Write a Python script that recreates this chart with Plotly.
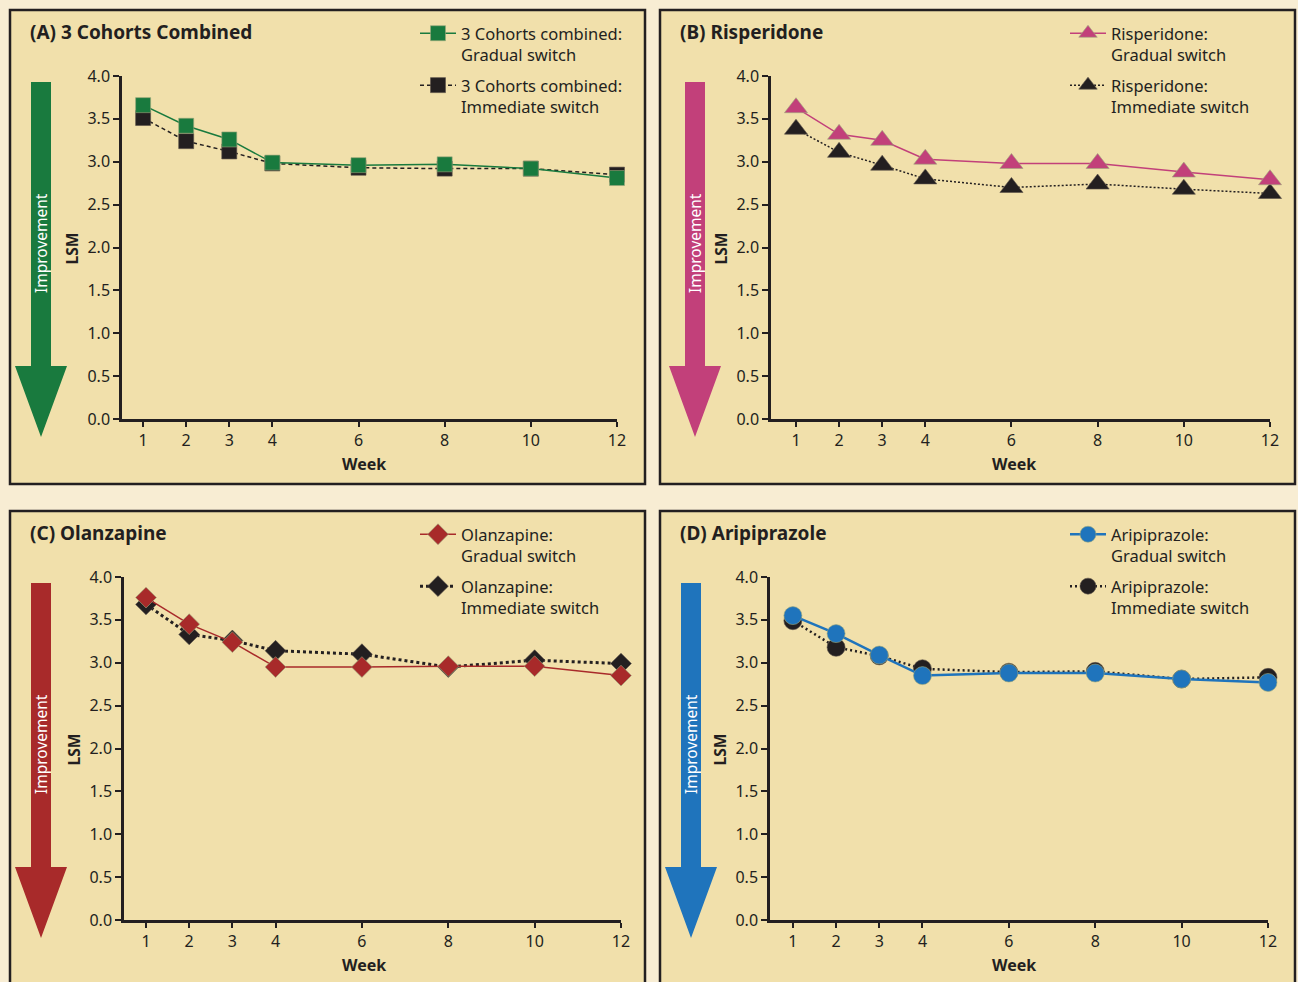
import plotly.graph_objects as go

W, H = 1298, 982

weeks = [1, 2, 3, 4, 6, 8, 10, 12]
week_ticks = [1, 2, 3, 4, 6, 8, 10, 12]
lsm_ticks = [0.0, 0.5, 1.0, 1.5, 2.0, 2.5, 3.0, 3.5, 4.0]

combined_gradual = [3.66, 3.42, 3.26, 2.99, 2.96, 2.97, 2.92, 2.81]
combined_immediate = [3.51, 3.24, 3.12, 2.98, 2.93, 2.92, 2.92, 2.85]
risperidone_gradual = [3.63, 3.32, 3.25, 3.03, 2.98, 2.98, 2.88, 2.79]
risperidone_immediate = [3.38, 3.11, 2.96, 2.80, 2.70, 2.74, 2.68, 2.63]
olanzapine_gradual = [3.76, 3.45, 3.24, 2.95, 2.95, 2.96, 2.96, 2.85]
olanzapine_immediate = [3.68, 3.33, 3.26, 3.14, 3.10, 2.95, 3.03, 2.99]
aripiprazole_gradual = [3.55, 3.34, 3.09, 2.85, 2.88, 2.88, 2.81, 2.77]
aripiprazole_immediate = [3.49, 3.18, 3.08, 2.93, 2.89, 2.90, 2.81, 2.83]

titles = ["(A) 3 Cohorts Combined", "(B) Risperidone", "(C) Olanzapine", "(D) Aripiprazole"]
names = ["3 Cohorts combined", "Risperidone", "Olanzapine", "Aripiprazole"]

BG = "#F8EDD3"
PANEL = "#F1E0AB"
DARK = "#231F20"
GREEN = "#197A3E"
PINK = "#C2407A"
RED = "#A82A2A"
BLUE = "#1F74BC"
FONT = "Noto Sans"


def px(x):
    return x / W


def py(y):
    return 1 - y / H


# panel layout in pixels
panels = [
    dict(box=(10, 10, 645, 484), xdom=(122, 617), ydom=(76, 419), xr=0.51,
         color=GREEN, symbol="square", msize=15, dash="4px,3px", gw=1.5, iw=1.5,
         arrow_x=41, top=0, leg=(415, 16)),
    dict(box=(660, 10, 1295, 484), xdom=(771, 1270), ydom=(76, 419), xr=0.42,
         color=PINK, symbol="triangle-up", msize=20, dash="2px,2px", gw=1.5, iw=1.5,
         arrow_x=695, top=0, leg=(1065, 16)),
    dict(box=(10, 511, 645, 992), xdom=(124, 621), ydom=(577, 920), xr=0.49,
         color=RED, symbol="diamond", msize=16, dash="3px,3px", gw=1.5, iw=3,
         arrow_x=41, top=501, leg=(415, 517)),
    dict(box=(660, 511, 1295, 992), xdom=(770, 1268), ydom=(577, 920), xr=0.47,
         color=BLUE, symbol="circle", msize=18, dash="2px,3px", gw=2.5, iw=2.5,
         arrow_x=691, top=501, leg=(1065, 517)),
]
series = [
    (combined_gradual, combined_immediate),
    (risperidone_gradual, risperidone_immediate),
    (olanzapine_gradual, olanzapine_immediate),
    (aripiprazole_gradual, aripiprazole_immediate),
]

fig = go.Figure()
shapes = []
annotations = []
layout = dict(
    width=W, height=H, margin=dict(l=0, r=0, t=0, b=0, autoexpand=False),
    paper_bgcolor=BG, plot_bgcolor="rgba(0,0,0,0)",
    font=dict(family=FONT, color=DARK, size=15),
    showlegend=True,
)


def ann(text, x, y, size, color=DARK, angle=0, xanchor="center"):
    return dict(text=text, x=px(x), y=py(y), xref="paper", yref="paper",
                xanchor=xanchor, yanchor="middle", showarrow=False, textangle=angle,
                font=dict(size=size, family=FONT, color=color))


for i, (p, (grad, imm)) in enumerate(zip(panels, series)):
    n = "" if i == 0 else str(i + 1)
    xa, ya = "x" + n, "y" + n
    lg = "legend" + n
    # panel background
    x0, y0, x1, y1 = p["box"]
    shapes.append(dict(type="rect", xref="paper", yref="paper", x0=px(x0), x1=px(x1),
                       y0=py(y1), y1=py(y0), fillcolor=PANEL,
                       line=dict(color=DARK, width=2.5), layer="below"))
    # arrow
    ax = p["arrow_x"]
    t = p["top"]
    path = "M{},{} L{},{} L{},{} L{},{} L{},{} L{},{} L{},{} Z".format(
        px(ax - 10), py(t + 82), px(ax + 10), py(t + 82), px(ax + 10), py(t + 366),
        px(ax + 26), py(t + 366), px(ax), py(t + 437), px(ax - 26), py(t + 366),
        px(ax - 10), py(t + 366))
    shapes.append(dict(type="path", xref="paper", yref="paper", path=path,
                       fillcolor=p["color"], line=dict(width=0), layer="below"))
    annotations.append(ann("Improvement", ax, t + 243, 15.5, color="white", angle=-90))
    # titles
    annotations.append(ann("<b>" + titles[i] + "</b>", x0 + 18, t + 32, 19, xanchor="left"))
    xd = p["xdom"]
    yd = p["ydom"]
    annotations.append(ann("<b>LSM</b>", xd[0] - 51, (yd[0] + yd[1]) / 2 + 1, 15.5, angle=-90))
    annotations.append(ann("<b>Week</b>", x0 + 354, t + 464, 16))
    layout["xaxis" + n] = dict(
        domain=[px(xd[0]), px(xd[1])], range=[p["xr"], 12], anchor=ya,
        tickvals=week_ticks, ticks="outside", ticklen=5, tickwidth=1.5, tickcolor=DARK,
        showline=True, linewidth=2.5, linecolor=DARK, showgrid=False, zeroline=False,
        tickfont=dict(size=16, color=DARK, family=FONT), fixedrange=True)
    layout["yaxis" + n] = dict(
        domain=[py(yd[1]), py(yd[0])], range=[0, 4], anchor=xa,
        tickvals=lsm_ticks, tickformat=".1f", ticks="outside", ticklen=6, tickwidth=1.5,
        tickcolor=DARK, showline=True, linewidth=2.5, linecolor=DARK, showgrid=False,
        zeroline=False, tickfont=dict(size=16, color=DARK, family=FONT), fixedrange=True)
    lx, ly = p["leg"]
    layout[lg] = dict(x=px(lx), y=py(ly), xanchor="left", yanchor="top",
                      bgcolor="rgba(0,0,0,0)", font=dict(size=16.5, family=FONT, color=DARK),
                      valign="top", traceorder="grouped", tracegroupgap=6,
                      itemwidth=36, itemclick=False, itemdoubleclick=False)
    fig.add_trace(go.Scatter(
        x=weeks, y=imm, xaxis=xa, yaxis=ya, mode="lines+markers",
        name=names[i] + ":<br>Immediate switch", legend=lg, legendgroup=lg + "b",
        legendrank=2, cliponaxis=False,
        line=dict(color=DARK, width=p["iw"], dash=p["dash"]),
        marker=dict(symbol=p["symbol"], size=p["msize"], color=DARK,
                    line=dict(width=0.6, color="#5a5048"))))
    fig.add_trace(go.Scatter(
        x=weeks, y=grad, xaxis=xa, yaxis=ya, mode="lines+markers",
        name=names[i] + ":<br>Gradual switch", legend=lg, legendgroup=lg + "a",
        legendrank=1, cliponaxis=False,
        line=dict(color=p["color"], width=p["gw"]),
        marker=dict(symbol=p["symbol"], size=p["msize"], color=p["color"],
                    line=dict(width=0.6, color="#9aa67a"))))

layout["shapes"] = shapes
layout["annotations"] = annotations
fig.update_layout(**layout)

fig.write_html("out.html", config={"displayModeBar": False},
               post_script="document.body.style.margin='0';document.body.style.overflow='hidden';")
